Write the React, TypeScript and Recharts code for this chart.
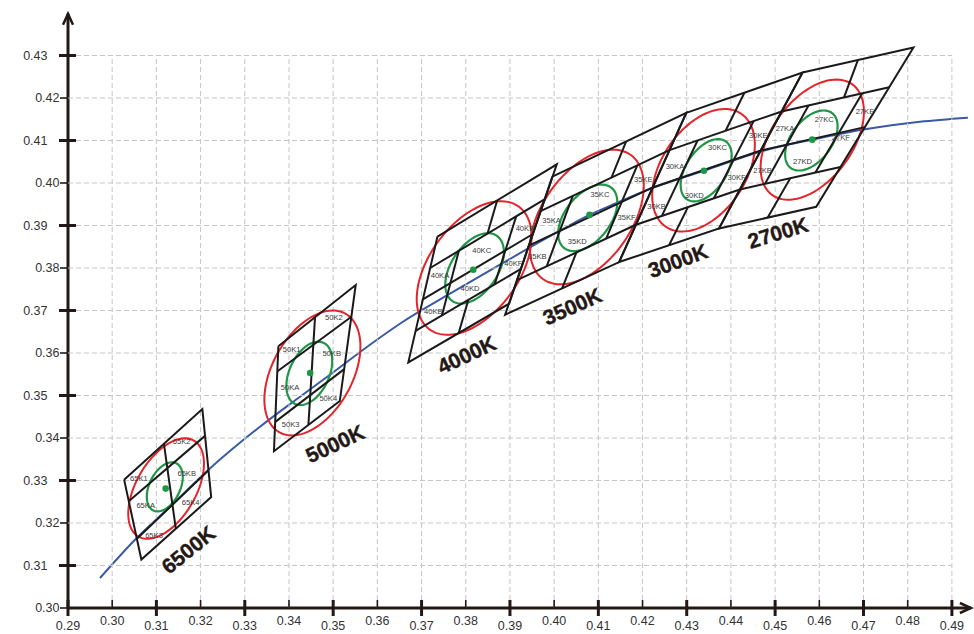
import React from "react";
import { ComposedChart, XAxis, YAxis, Scatter, Line, ReferenceLine } from "recharts";

// ---------------- data ----------------
const X_TICKS = [0.29, 0.30, 0.31, 0.32, 0.33, 0.34, 0.35, 0.36, 0.37, 0.38, 0.39, 0.40, 0.41, 0.42, 0.43, 0.44, 0.45, 0.46, 0.47, 0.48, 0.49];
const Y_TICKS = [0.30, 0.31, 0.32, 0.33, 0.34, 0.35, 0.36, 0.37, 0.38, 0.39, 0.40, 0.41, 0.42, 0.43];

// Planckian locus (blue curve)
const LOCUS = [
  { x: 0.29724, y: 0.30706 }, { x: 0.30538, y: 0.31631 }, { x: 0.31308, y: 0.32384 }, { x: 0.32167, y: 0.33242 },
  { x: 0.33344, y: 0.34266 }, { x: 0.34249, y: 0.34972 }, { x: 0.34928, y: 0.35489 }, { x: 0.35833, y: 0.36195 },
  { x: 0.36511, y: 0.36689 }, { x: 0.37643, y: 0.37395 }, { x: 0.38774, y: 0.38078 }, { x: 0.40131, y: 0.38878 },
  { x: 0.40810, y: 0.39254 }, { x: 0.41376, y: 0.39513 }, { x: 0.42281, y: 0.39906 }, { x: 0.43389, y: 0.40289 },
  { x: 0.44701, y: 0.40748 }, { x: 0.45833, y: 0.41019 }, { x: 0.47032, y: 0.41266 }, { x: 0.48276, y: 0.41442 },
  { x: 0.49362, y: 0.41537 },
];

// Quadrangle outlines (corner points)
const OUTLINE_6500K = [[0.3027, 0.3302], [0.3204, 0.3468], [0.3224, 0.3261], [0.3066, 0.3114]];
const OUTLINE_5000K = [[0.3376, 0.3616], [0.3551, 0.3760], [0.3515, 0.3487], [0.3366, 0.3369]];
const OUTLINE_4000K = [[0.3736, 0.3874], [0.4006, 0.4044], [0.3898, 0.3716], [0.3670, 0.3578]];
const OUTLINE_3500K = [[0.3996, 0.4015], [0.4299, 0.4165], [0.4147, 0.3814], [0.3889, 0.3690]];
const OUTLINE_3000K = [[0.4299, 0.4165], [0.4562, 0.4260], [0.4373, 0.3893], [0.4147, 0.3814]];
const OUTLINE_2700K = [[0.4562, 0.4260], [0.4813, 0.4319], [0.4593, 0.3944], [0.4373, 0.3893]];

// Sub-bin boundary segments
const SEGMENTS_6500K = [
  [[0.3038, 0.3252], [0.3210, 0.3405]],
  [[0.3056, 0.3163], [0.3218, 0.3324]],
  [[0.3117, 0.3387], [0.3144, 0.3186]],
];
const SEGMENTS_5000K = [
  [[0.3374, 0.3557], [0.3542, 0.3686]],
  [[0.3369, 0.3438], [0.3525, 0.3562]],
  [[0.3459, 0.3685], [0.3444, 0.3431]],
];
const SEGMENTS_4000K = [
  [[0.37195, 0.3800], [0.3979, 0.3962]],
  [[0.3703, 0.3726], [0.3952, 0.3880]],
  [[0.36865, 0.3652], [0.3925, 0.3798]],
  [[0.3871, 0.3959], [0.38493, 0.3881]],
  [[0.38058, 0.3725], [0.3784, 0.3647]],
  [[0.37844, 0.38405], [0.37461, 0.36885]],
  [[0.39141, 0.39215], [0.38654, 0.37615]],
];
const SEGMENTS_3500K = [
  [[0.39693, 0.39338], [0.4261, 0.40773]],
  [[0.39425, 0.38525], [0.4223, 0.39895]],
  [[0.39158, 0.37713], [0.4185, 0.39018]],
  [[0.41627, 0.40975], [0.41297, 0.40127]],
  [[0.40504, 0.38366], [0.4018, 0.3752]],
  [[0.40422, 0.39697], [0.39831, 0.38039]],
  [[0.41881, 0.40414], [0.41177, 0.38692]],
];
const SEGMENTS_3000K = [
  [[0.4261, 0.40773], [0.45148, 0.41683]],
  [[0.4223, 0.39895], [0.44675, 0.40765]],
  [[0.4185, 0.39018], [0.44203, 0.39848]],
  [[0.44305, 0.42125], [0.43879, 0.41228]],
  [[0.43027, 0.39433], [0.4260, 0.38535]],
  [[0.43245, 0.41001], [0.42438, 0.39226]],
  [[0.44514, 0.41456], [0.43615, 0.39641]],
];
const SEGMENTS_2700K = [
  [[0.45148, 0.41683], [0.4758, 0.42253]],
  [[0.44675, 0.40765], [0.4703, 0.41315]],
  [[0.44203, 0.39848], [0.4648, 0.40378]],
  [[0.46875, 0.42895], [0.46559, 0.42014]],
  [[0.45342, 0.40113], [0.4483, 0.39185]],
  [[0.45756, 0.41826], [0.44772, 0.39981]],
  [[0.46972, 0.42111], [0.45911, 0.40246]],
];

// MacAdam-style ellipses: centre, semi-axes (chromaticity units), tilt (deg)
const RED_ELLIPSES = [
  { cx: 0.3122, cy: 0.3281, a: 0.01304, b: 0.00701, angle: 60 },
  { cx: 0.3453, cy: 0.3553, a: 0.01598, b: 0.00941, angle: 61 },
  { cx: 0.3819, cy: 0.3800, a: 0.01786, b: 0.01052, angle: 54 },
  { cx: 0.4074, cy: 0.3920, a: 0.01788, b: 0.01052, angle: 55 },
  { cx: 0.4338, cy: 0.4030, a: 0.01598, b: 0.00991, angle: 56.6 },
  { cx: 0.4584, cy: 0.4102, a: 0.01607, b: 0.00946, angle: 54 },
];
const GREEN_ELLIPSES = [
  { cx: 0.3119, cy: 0.3285, a: 0.00617, b: 0.00362, angle: 64 },
  { cx: 0.3446, cy: 0.3552, a: 0.00793, b: 0.00466, angle: 65 },
  { cx: 0.3820, cy: 0.3799, a: 0.00929, b: 0.00546, angle: 56 },
  { cx: 0.4076, cy: 0.3918, a: 0.00901, b: 0.00532, angle: 52 },
  { cx: 0.4344, cy: 0.4030, a: 0.00821, b: 0.00473, angle: 56.6 },
  { cx: 0.4582, cy: 0.4100, a: 0.00809, b: 0.00475, angle: 53 },
];

const CENTER_DOTS = [
  { x: 0.3121, y: 0.3281 }, { x: 0.3448, y: 0.3553 }, { x: 0.3817, y: 0.3796 },
  { x: 0.4080, y: 0.3925 }, { x: 0.4339, y: 0.4029 }, { x: 0.4584, y: 0.4102 },
];

const BIN_LABELS = [
  { x: 0.30606, y: 0.33045, name: "65K1" }, { x: 0.31572, y: 0.33906, name: "65K2" },
  { x: 0.31686, y: 0.33153, name: "65KB" }, { x: 0.30758, y: 0.32407, name: "65KA" },
  { x: 0.31776, y: 0.32485, name: "65K4" }, { x: 0.30946, y: 0.31708, name: "65K3" },
  { x: 0.34061, y: 0.36078, name: "50K1" }, { x: 0.35018, y: 0.36838, name: "50K2" },
  { x: 0.34966, y: 0.35984, name: "50KB" }, { x: 0.34023, y: 0.35200, name: "50KA" },
  { x: 0.34889, y: 0.34941, name: "50K4" }, { x: 0.34038, y: 0.34313, name: "50K3" },
  { x: 0.39339, y: 0.38941, name: "40KE" }, { x: 0.38360, y: 0.38414, name: "40KC" },
  { x: 0.37416, y: 0.37826, name: "40KA" }, { x: 0.39075, y: 0.38101, name: "40KF" },
  { x: 0.38095, y: 0.37506, name: "40KD" }, { x: 0.37265, y: 0.36979, name: "40KB" },
  { x: 0.39943, y: 0.39120, name: "35KA" }, { x: 0.41036, y: 0.39741, name: "35KC" },
  { x: 0.42016, y: 0.40094, name: "35KE" }, { x: 0.41640, y: 0.39200, name: "35KF" },
  { x: 0.40523, y: 0.38626, name: "35KD" }, { x: 0.39618, y: 0.38259, name: "35KB" },
  { x: 0.42733, y: 0.40391, name: "30KA" }, { x: 0.43699, y: 0.40824, name: "30KC" },
  { x: 0.44618, y: 0.41107, name: "30KE" }, { x: 0.44129, y: 0.40118, name: "30KF" },
  { x: 0.43170, y: 0.39708, name: "30KD" }, { x: 0.42319, y: 0.39449, name: "30KB" },
  { x: 0.45222, y: 0.41278, name: "27KA" }, { x: 0.46111, y: 0.41489, name: "27KC" },
  { x: 0.47032, y: 0.41671, name: "27KE" }, { x: 0.46489, y: 0.41074, name: "27KF" },
  { x: 0.45622, y: 0.40508, name: "27KD" }, { x: 0.44717, y: 0.40289, name: "27KB" },
];

const CCT_LABELS = [
  { x: 0.31722, y: 0.31372, name: "6500K", angle: 39 },
  { x: 0.35041, y: 0.33866, name: "5000K", angle: 25 },
  { x: 0.38020, y: 0.35960, name: "4000K", angle: 25 },
  { x: 0.40410, y: 0.37097, name: "3500K", angle: 24 },
  { x: 0.42801, y: 0.38172, name: "3000K", angle: 20 },
  { x: 0.45063, y: 0.38831, name: "2700K", angle: 17 },
];

// ---------------- layout / style ----------------
const W = 974;
const H = 634;
const X_DOMAIN = [0.29, 0.495];
const Y_DOMAIN = [0.3, 0.44];
const Y_AXIS_W = 68;
const X_AXIS_H = 26;
const TOP = 13;
const PLOT_W = W - Y_AXIS_W;
const PLOT_H = H - TOP - X_AXIS_H;
const ASPECT = (PLOT_H / (Y_DOMAIN[1] - Y_DOMAIN[0])) / (PLOT_W / (X_DOMAIN[1] - X_DOMAIN[0]));

const AXIS = "#231815";
const GRID = "#c6c6c6";
const BLACK = "#1a1a1a";
const RED = "#e3242b";
const GREEN = "#1f9646";
const BLUE = "#3a5aa6";
const FONT = "'Liberation Sans', Arial, sans-serif";

const toPts = (arr: number[][]) => arr.map((p) => ({ x: p[0], y: p[1] }));
const closed = (arr: number[][]) => toPts([...arr, arr[0]]);

function ellipsePts(e: { cx: number; cy: number; a: number; b: number; angle: number }) {
  const th = (e.angle * Math.PI) / 180;
  const pts: { x: number; y: number }[] = [];
  for (let i = 0; i <= 96; i++) {
    const t = (i / 96) * Math.PI * 2;
    const u = e.a * Math.cos(t);
    const v = e.b * Math.sin(t);
    pts.push({
      x: e.cx + (u * Math.cos(th) - v * Math.sin(th)) * ASPECT,
      y: e.cy + u * Math.sin(th) + v * Math.cos(th),
    });
  }
  return pts;
}

const noShape = () => <g />;

const XTick = (props: any) => {
  const { x, y, payload } = props;
  const v = payload.value as number;
  const major = Math.round(v * 100) % 2 === 1;
  return (
    <g>
      {major ? (
        <line x1={x} x2={x} y1={y - 8} y2={y + 8} stroke={AXIS} strokeWidth={3} />
      ) : (
        <line x1={x} x2={x} y1={y - 8} y2={y} stroke={AXIS} strokeWidth={1.6} />
      )}
      <text x={x} y={major ? y + 21.5 : y + 16.5} textAnchor="middle" fontSize={12.5} fill="#333" fontFamily={FONT}>
        {v.toFixed(2)}
      </text>
    </g>
  );
};

const YTick = (props: any) => {
  const { x, y, payload } = props;
  const v = payload.value as number;
  const major = Math.round(v * 100) % 2 === 1;
  return (
    <g>
      {major ? (
        <line x1={x - 9} x2={x + 8} y1={y} y2={y} stroke={AXIS} strokeWidth={3} />
      ) : (
        <line x1={x - 8} x2={x} y1={y} y2={y} stroke={AXIS} strokeWidth={1.6} />
      )}
      <text x={major ? x - 20.5 : x - 8.5} y={y + 4.4} textAnchor="end" fontSize={12.5} fill="#333" fontFamily={FONT}>
        {v.toFixed(2)}
      </text>
    </g>
  );
};

const binLabelShape = (props: any) => (
  <text x={props.cx} y={props.cy} textAnchor="middle" dominantBaseline="central" fontSize={7.6} fill="#3a3a3a" fontFamily={FONT}>
    {props.payload.name}
  </text>
);

const cctLabelShape = (props: any) => (
  <text
    x={props.cx}
    y={props.cy}
    textAnchor="middle"
    dominantBaseline="central"
    fontSize={21}
    fontWeight={700}
    fill={AXIS}
    stroke={AXIS}
    strokeWidth={0.4}
    fontFamily={FONT}
    transform={`rotate(${-props.payload.angle} ${props.cx} ${props.cy})`}
  >
    {props.payload.name}
  </text>
);

const dotShape = (props: any) => <circle cx={props.cx} cy={props.cy} r={3.3} fill={GREEN} />;

const upArrow = (props: any) => (
  <path d={`M${props.cx - 5},${props.cy + 11} L${props.cx},${props.cy} L${props.cx + 5},${props.cy + 11}`} fill="none" stroke={AXIS} strokeWidth={2.5} />
);
const rightArrow = (props: any) => (
  <path d={`M${props.cx - 11},${props.cy - 5} L${props.cx},${props.cy} L${props.cx - 11},${props.cy + 5}`} fill="none" stroke={AXIS} strokeWidth={2.5} />
);

const OUTLINES = [OUTLINE_6500K, OUTLINE_5000K, OUTLINE_4000K, OUTLINE_3500K, OUTLINE_3000K, OUTLINE_2700K];
const SEGMENTS = [...SEGMENTS_6500K, ...SEGMENTS_5000K, ...SEGMENTS_4000K, ...SEGMENTS_3500K, ...SEGMENTS_3000K, ...SEGMENTS_2700K];

const GRID_V = X_TICKS.filter((v) => v > 0.295).map((v) => [{ x: v, y: 0.3 }, { x: v, y: 0.43 }]);
const GRID_H = Y_TICKS.filter((v) => v > 0.305).map((v) => [{ x: 0.29, y: v }, { x: 0.49, y: v }]);

export default function App() {
  return (
    <div style={{ position: "absolute", left: 0, top: 0, width: W, height: H, background: "#fff", fontFamily: FONT }}>
      <ComposedChart width={W} height={H} margin={{ top: TOP, right: 0, bottom: 0, left: 0 }}>
        <XAxis
          type="number"
          dataKey="x"
          domain={X_DOMAIN}
          ticks={X_TICKS}
          interval={0}
          height={X_AXIS_H}
          tickSize={0}
          tickMargin={0}
          axisLine={false}
          tickLine={false}
          tick={<XTick />}
        />
        <YAxis
          type="number"
          dataKey="y"
          domain={Y_DOMAIN}
          ticks={Y_TICKS}
          interval={0}
          width={Y_AXIS_W}
          tickSize={0}
          tickMargin={0}
          axisLine={false}
          tickLine={false}
          tick={<YTick />}
        />

        {[...GRID_V, ...GRID_H].map((seg, i) => (
          <Scatter
            key={`g${i}`}
            data={seg}
            fill={GRID}
            line={{ stroke: GRID, strokeWidth: 1, strokeDasharray: "5 3" }}
            lineType="joint"
            shape={noShape}
            isAnimationActive={false}
          />
        ))}

        {RED_ELLIPSES.map((e, i) => (
          <Scatter key={`re${i}`} data={ellipsePts(e)} fill={RED} line={{ stroke: RED, strokeWidth: 2 }} lineType="joint" shape={noShape} isAnimationActive={false} />
        ))}
        {GREEN_ELLIPSES.map((e, i) => (
          <Scatter key={`ge${i}`} data={ellipsePts(e)} fill={GREEN} line={{ stroke: GREEN, strokeWidth: 2.2 }} lineType="joint" shape={noShape} isAnimationActive={false} />
        ))}

        <Line data={LOCUS} dataKey="y" type="monotone" stroke={BLUE} strokeWidth={2} dot={false} activeDot={false} isAnimationActive={false} />

        {OUTLINES.map((o, i) => (
          <Scatter key={`ol${i}`} data={closed(o)} fill={BLACK} line={{ stroke: BLACK, strokeWidth: 2 }} lineType="joint" shape={noShape} isAnimationActive={false} />
        ))}
        {SEGMENTS.map((s, i) => (
          <Scatter key={`sg${i}`} data={toPts(s)} fill={BLACK} line={{ stroke: BLACK, strokeWidth: 2 }} lineType="joint" shape={noShape} isAnimationActive={false} />
        ))}

        <Scatter data={CENTER_DOTS} shape={dotShape} isAnimationActive={false} />
        <Scatter data={BIN_LABELS} shape={binLabelShape} isAnimationActive={false} />
        <Scatter data={CCT_LABELS} shape={cctLabelShape} isAnimationActive={false} />

        <ReferenceLine segment={[{ x: 0.29, y: 0.3 }, { x: 0.29, y: 0.4398 }]} stroke={AXIS} strokeWidth={3} />
        <ReferenceLine segment={[{ x: 0.29, y: 0.3 }, { x: 0.4943, y: 0.3 }]} stroke={AXIS} strokeWidth={3} />
        <Scatter data={[{ x: 0.29, y: 0.4398 }]} shape={upArrow} isAnimationActive={false} />
        <Scatter data={[{ x: 0.4943, y: 0.3 }]} shape={rightArrow} isAnimationActive={false} />
      </ComposedChart>
    </div>
  );
}
